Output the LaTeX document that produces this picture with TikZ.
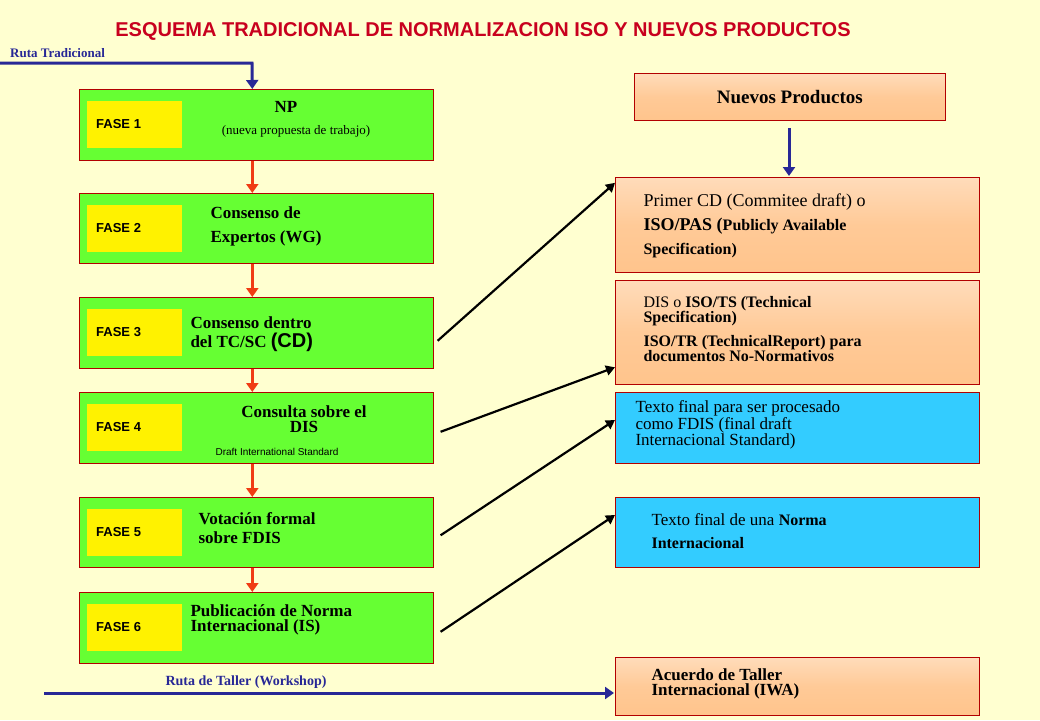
\documentclass[tikz,border=0pt]{standalone}
\usepackage{fontspec}
\setmainfont{Liberation Serif}
\setsansfont{Liberation Sans}
\usetikzlibrary{arrows.meta}
\begin{document}
\begin{tikzpicture}[x=1pt,y=-1pt,
 gbox/.style={draw=red!70!black,fill=grn,line width=0.6pt},
 ybox/.style={fill=yellow,inner sep=0pt},
 pbox/.style={draw=red!70!black,top color=pch!60,bottom color=pch,middle color=pch!90,line width=0.6pt},
 bbox/.style={draw=red!70!black,fill=cyanb,line width=0.6pt},
 rarr/.style={draw=redarr,line width=3pt,-{Triangle[length=9pt,width=12pt]}},
 barr/.style={draw=navy,line width=3pt,-{Triangle[length=9pt,width=12pt]}},
 karr/.style={draw=black,line width=2.2pt,-{Triangle[length=9pt,width=10pt]}},
 txt/.style={font=\bfseries\fontsize{17}{19}\selectfont,align=left,anchor=west}]
\definecolor{bg}{RGB}{255,255,208}
\definecolor{grn}{RGB}{102,255,51}
\definecolor{pch}{RGB}{255,196,140}
\definecolor{cyanb}{RGB}{51,204,255}
\definecolor{redarr}{RGB}{240,60,20}
\definecolor{navy}{RGB}{40,40,150}
\definecolor{ttl}{RGB}{200,0,30}
\fill[bg] (0,0) rectangle (1040,720);
\useasboundingbox (0,0) rectangle (1040,720);
\node[font=\sffamily\bfseries\fontsize{20}{20}\selectfont,text=ttl] (title) at (483,31) {ESQUEMA TRADICIONAL DE NORMALIZACION ISO Y  NUEVOS PRODUCTOS};
\node[font=\bfseries\fontsize{13}{13}\selectfont,text=navy,anchor=west,inner sep=0pt] (rt) at (10,53) {Ruta Tradicional};
% green boxes
\foreach \i/\t/\b in {1/89/160,2/193/263,3/297/368,4/392/463,5/497/567,6/592/663}{
 \node[gbox,minimum width=354pt,minimum height=\b-\t,inner sep=0pt,anchor=north west] (f\i) at (79,\t) {};
 \node[ybox,minimum width=95pt,minimum height=47pt,anchor=west] (y\i) at (87,{(\t+\b)/2}) {};
 \node[anchor=west,inner sep=0pt,font=\sffamily\bfseries\fontsize{13}{13}\selectfont] (l\i) at (96,{(\t+\b)/2}) {FASE \i};
}
\node[font=\bfseries\fontsize{17}{17}\selectfont] (t1) at (286,107) {NP};
\node[font=\fontsize{13}{13}\selectfont] (t1b) at (296,131) {(nueva propuesta de trabajo)};
\node[txt] (t2) at (207,226) {Consenso de\\[5pt]Expertos (WG)};
\node[txt] (t3) at (187,334) {Consenso dentro\\del TC/SC {\sffamily\fontsize{20}{20}\selectfont(CD)}};
\node[txt,align=center,anchor=center,font=\bfseries\fontsize{17}{15}\selectfont] (t4) at (304,419) {Consulta  sobre el\\DIS};
\node[font=\sffamily\fontsize{10}{10}\selectfont] (t4b) at (277,452) {Draft International Standard};
\node[txt] (t5) at (195,528) {Votación formal\\sobre FDIS};
\node[txt,font=\bfseries\fontsize{17}{15}\selectfont] (t6) at (187,620) {Publicación de Norma\\Internacional (IS)};
% red arrows
\foreach \a/\b in {1/2,2/3,3/4,4/5,5/6}{\draw[rarr] ([xshift=-4pt]f\a.south) -- ([xshift=-4pt]f\b.north);}
% blue route
\coordinate (rs) at (0,63);
\draw[barr] (rs) -- (252,63) -- ([xshift=-4pt]f1.north);
\coordinate (ws) at (44,693);
% right boxes
\node[pbox,minimum width=311pt,minimum height=47pt,anchor=north west,font=\bfseries\fontsize{19}{19}\selectfont] (np) at (634,73) {Nuevos Productos};
\node[pbox,minimum width=364pt,minimum height=95pt,anchor=north west] (r1) at (615,177) {};
\node[pbox,minimum width=364pt,minimum height=104pt,anchor=north west] (r2) at (615,280) {};
\node[bbox,minimum width=364pt,minimum height=71pt,anchor=north west] (r3) at (615,392) {};
\node[bbox,minimum width=364pt,minimum height=70pt,anchor=north west] (r4) at (615,497) {};
\node[pbox,minimum width=364pt,minimum height=58pt,anchor=north west] (r5) at (615,657) {};
\coordinate (nps) at (789,128);
\draw[barr] (nps) -- (789,176);
\node[anchor=west,align=left,font=\fontsize{18}{24}\selectfont] (r1t) at (640,226) {Primer CD (Commitee draft) o\\{\bfseries ISO/PAS (}{\bfseries\fontsize{16}{24}\selectfont Publicly Available}\\{\bfseries\fontsize{16}{24}\selectfont Specification)}};
\node[anchor=west,align=left,font=\bfseries\fontsize{16}{14}\selectfont] (r2t) at (640,329) {{\mdseries DIS o} ISO/TS (Technical\\Specification)\\[8pt]ISO/TR (TechnicalReport) para\\documentos No-Normativos};
\node[anchor=west,align=left,font=\fontsize{17}{14}\selectfont] (r3t) at (632,425) {Texto final para ser procesado\\como FDIS (final draft\\Internacional Standard)};
\node[anchor=west,align=left,font=\fontsize{17}{23}\selectfont] (r4t) at (648,531) {Texto final de una {\bfseries\fontsize{16}{23}\selectfont Norma}\\{\bfseries\fontsize{16}{23}\selectfont Internacional}};
\node[anchor=west,align=left,font=\bfseries\fontsize{17}{15}\selectfont] (r5t) at (648,684) {Acuerdo de Taller\\Internacional (IWA)};
% black arrows
\draw[karr] (f3.east) ++(4,8) -- ([yshift=42pt]r1.west);
\draw[karr] (f4.east) ++(7,4) -- ([yshift=-35pt]r2.west);
\draw[karr] (f5.east) ++(7,3) -- ([yshift=-28pt]r3.north west);
\draw[karr] (f6.east) ++(7,4) -- ([yshift=-18pt]r4.north west);
% workshop
\draw[barr] (ws) -- (614,693);
\node[font=\bfseries\fontsize{14}{14}\selectfont,text=navy] (wl) at (246,682) {Ruta de Taller (Workshop)};
\end{tikzpicture}
\end{document}
